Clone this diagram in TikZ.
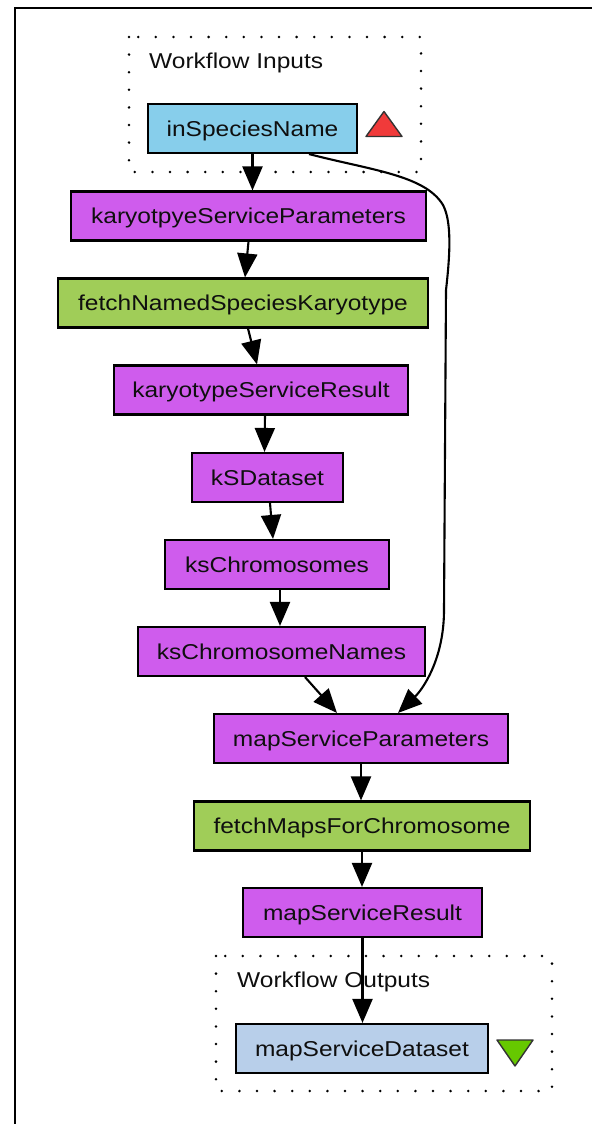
\documentclass[tikz,border=0pt]{standalone}
\usepackage{fontspec}
\setmainfont{Liberation Sans}
\newfontfamily\lblfont[FakeStretch=1.14]{Liberation Sans}
\usetikzlibrary{arrows.meta,calc}

\definecolor{procpurple}{RGB}{207,92,237}
\definecolor{servgreen}{RGB}{160,205,88}
\definecolor{inblue}{RGB}{135,206,235}
\definecolor{outblue}{RGB}{184,207,234}
\definecolor{markred}{RGB}{240,58,58}
\definecolor{markgreen}{RGB}{102,200,0}
\definecolor{inktext}{RGB}{15,15,15}

\begin{document}
\begin{tikzpicture}[x=1pt,y=-1pt,
  lbl/.style={font=\lblfont\fontsize{21.5}{25}\selectfont, text=inktext,
    text height=15pt, text depth=0pt, inner sep=0pt},
  box/.style={lbl, draw=black, line width=2.1pt, minimum height=49pt},
  proc/.style={box, fill=procpurple},
  serv/.style={box, fill=servgreen},
  inport/.style={box, fill=inblue},
  outport/.style={box, fill=outblue},
  cluster/.style={draw=black, line width=2.8pt, line cap=round,
    dash pattern=on 0pt off 17.6pt},
  arr/.style={draw=black, line width=2.1pt,
    -{Triangle[length=24pt,width=20pt]}},
  marker/.style={draw=black!80, line width=1.4pt, line join=round}
]
\useasboundingbox[fill=white] (0,0) rectangle (592,1124);

% outer frame (only the left and top edges fall inside the page)
\draw[line width=2pt] (14.5,1124) -- (14.5,8) -- (592,8);

% clusters
\draw[cluster] (129,37) rectangle (421,172);
\node[lbl, anchor=west] (inlabel) at (149,60.5) {Workflow Inputs};
\draw[cluster] (216,956) rectangle (552,1091);
\node[lbl, anchor=west] (outlabel) at (237,980) {Workflow Outputs};

% nodes
\node[inport, minimum width=209pt] (inSp) at (252.5,128.5) {inSpeciesName};
\node[proc, minimum width=355pt] (kSP) at (248.5,216) {karyotpyeServiceParameters};
\node[serv, minimum width=370pt] (fNSK) at (243,303) {fetchNamedSpeciesKaryotype};
\node[proc, minimum width=294pt] (kSR) at (261,390) {karyotypeServiceResult};
\node[proc, minimum width=151pt] (kSD) at (267.5,477.5) {kSDataset};
\node[proc, minimum width=224pt] (ksC) at (277,564.5) {ksChromosomes};
\node[proc, minimum width=287pt] (ksCN) at (281.5,651.5) {ksChromosomeNames};
\node[proc, minimum width=294pt] (mSP) at (361,738.5) {mapServiceParameters};
\node[serv, minimum width=336pt] (fMFC) at (362,826) {fetchMapsForChromosome};
\node[proc, minimum width=239pt] (mSR) at (362.5,912.5) {mapServiceResult};
\node[outport, minimum width=252pt] (mSD) at (362,1048.5) {mapServiceDataset};

% port markers
\draw[marker, fill=markred] (366,136.5) -- (402,136.5) -- (384,111.5) -- cycle;
\draw[marker, fill=markgreen] (497,1040) -- (533,1040) -- (515,1066) -- cycle;

% connectors
\draw[arr] (inSp.south) -- (inSp.south |- kSP.north);
\draw[arr] (kSP.south) -- ([xshift=2pt]fNSK.north);
\draw[arr] ([xshift=5pt]fNSK.south) -- ([xshift=-4pt]kSR.north);
\draw[arr] ([xshift=4pt]kSR.south) -- ([xshift=-3pt]kSD.north);
\draw[arr] ([xshift=2.5pt]kSD.south) -- ([xshift=-4pt]ksC.north);
\draw[arr] ([xshift=3pt]ksC.south) -- ([xshift=-1.5pt]ksCN.north);
\draw[arr] ([xshift=23.5pt]ksCN.south) -- ([xshift=-24pt]mSP.north);
\draw[arr] ([xshift=56.5pt]inSp.south)
  .. controls (370,170) and (425,175) .. (443,205)
  .. controls (452,222) and (450,255) .. (446,290)
  -- (444,610)
  .. controls (444,660) and (422,690) .. ([xshift=37pt]mSP.north);
\draw[arr] (mSP.south) -- (mSP.south |- fMFC.north);
\draw[arr] (fMFC.south) -- (fMFC.south |- mSR.north);
\draw[arr] (mSR.south) -- (mSR.south |- mSD.north);
\end{tikzpicture}
\end{document}
